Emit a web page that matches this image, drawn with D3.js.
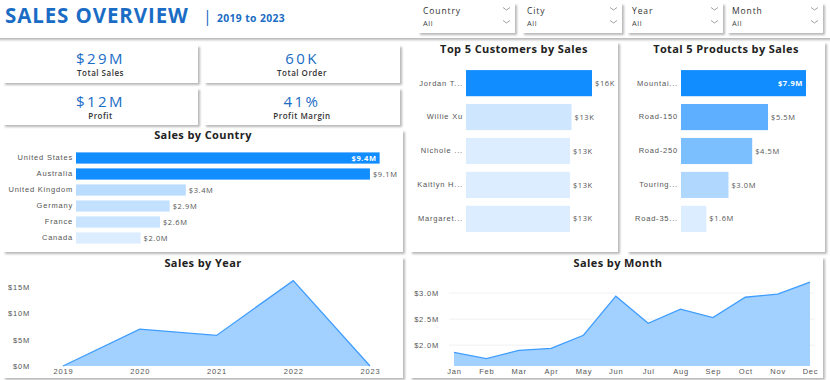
<!DOCTYPE html>
<html><head><meta charset="utf-8">
<script src="https://cdn.jsdelivr.net/npm/d3@7"></script>
<style>
html,body{margin:0;padding:0;background:#fff;}
svg{display:block;font-family:"Open Sans","DejaVu Sans",sans-serif;}
</style></head><body>
<svg id="c" width="830" height="380"></svg>
<script>
// ---- data ----
const slicers = ["Country","City","Year","Month"];
const kpiValues = ["$29M","60K","$12M","41%"];
const kpiLabels = ["Total Sales","Total Order","Profit","Profit Margin"];

const countries = ["United States","Australia","United Kingdom","Germany","France","Canada"];
const countrySales = [9.4,9.1,3.4,2.9,2.6,2.0];
const countryColors = ["#118DFF","#118DFF","#b9dcff","#c3e1ff","#c9e4ff","#dbedff"];

const customers = ["Jordan T...","Willie Xu","Nichole ...","Kaitlyn H...","Margaret..."];
const customerSales = [16.0,13.4,13.2,13.2,13.2];
const customerColors = ["#118DFF","#cfe6ff","#dcedff","#dcedff","#dcedff"];

const products = ["Mountai...","Road-150","Road-250","Touring...","Road-35..."];
const productSales = [7.9,5.5,4.5,3.0,1.6];
const productColors = ["#118DFF","#5eafff","#7cbfff","#b0d8ff","#dcedff"];

const years = ["2019","2020","2021","2022","2023"];
const yearSales = [0,7.0,5.8,16.2,0];
const yearTicks = [0,5,10,15];

const months = ["Jan","Feb","Mar","Apr","May","Jun","Jul","Aug","Sep","Oct","Nov","Dec"];
const monthSales = [1.86,1.74,1.90,1.94,2.19,2.94,2.42,2.69,2.53,2.92,2.98,3.21];
const monthTicks = [2.0,2.5,3.0];

// ---- drawing ----
const svg = d3.select("#c");
const defs = svg.append("defs");
const f = defs.append("filter").attr("id","sh").attr("x","-10%").attr("y","-10%").attr("width","130%").attr("height","140%");
f.append("feDropShadow").attr("dx",2).attr("dy",2).attr("stdDeviation",1.3).attr("flood-color","#000").attr("flood-opacity",0.28);

function card(x,y,w,h){
  svg.append("rect").attr("x",x).attr("y",y).attr("width",w).attr("height",h)
    .attr("fill","#fff").attr("filter","url(#sh)");
}
const blue = "#1a6cc4";

// header
svg.append("rect").attr("x",-5).attr("y",-5).attr("width",840).attr("height",43).attr("fill","#fff").attr("filter","url(#sh)");
svg.append("text").attr("x",5).attr("y",23).attr("font-size",20.5).attr("font-weight",700).attr("fill",blue).attr("letter-spacing",0.9).text("SALES OVERVIEW");
svg.append("text").attr("x",203).attr("y",22).attr("font-size",16).attr("font-weight",400).attr("fill",blue).text("|");
svg.append("text").attr("x",217).attr("y",21.5).attr("font-size",10.3).attr("font-weight",700).attr("fill",blue).attr("letter-spacing",0.4).text("2019 to 2023");

// slicers
const slX = [418,522,627,727], slW = [97,100,96,96];
slicers.forEach((s,i)=>{
  const x = slX[i], w = slW[i];
  card(x,3,w,30);
  svg.append("text").attr("x",x+5).attr("y",13.5).attr("font-size",8.5).attr("fill","#333").attr("letter-spacing",0.9).text(s);
  svg.append("text").attr("x",x+5).attr("y",26).attr("font-size",7.5).attr("fill","#444").attr("letter-spacing",0.5).text("All");
  [9,22].forEach(cy=>{
    svg.append("path").attr("d",`M${x+w-12},${cy-1.5} l3.5,2.5 l3.5,-2.5`).attr("fill","none").attr("stroke","#888").attr("stroke-width",0.8);
  });
});

// KPI cards
const kpiPos = [[3,45,195,38],[204,45,196,38],[3,88,195,37],[204,88,196,37]];
kpiPos.forEach((p,i)=>{
  card(p[0],p[1],p[2],p[3]);
  svg.append("text").attr("x",p[0]+p[2]/2).attr("y",p[1]+19).attr("text-anchor","middle")
    .attr("font-size",15).attr("fill",blue).attr("letter-spacing",2.4).text(kpiValues[i]);
  svg.append("text").attr("x",p[0]+p[2]/2).attr("y",p[1]+31).attr("text-anchor","middle")
    .attr("font-size",8).attr("font-weight",600).attr("fill","#333").attr("letter-spacing",0.5).text(kpiLabels[i]);
});

function title(cx,y,t){
  svg.append("text").attr("x",cx).attr("y",y).attr("text-anchor","middle").attr("font-size",11)
    .attr("font-weight",700).attr("fill","#222").attr("letter-spacing",0.4).text(t);
}

function hbar(cfg){
  const x = d3.scaleLinear().domain([0,cfg.max]).range([cfg.x0,cfg.x1]);
  const y = d3.scaleBand().domain(cfg.labels).range([cfg.y0,cfg.y1]).paddingInner(cfg.pad).paddingOuter(cfg.padOuter);
  const g = svg.append("g");
  g.selectAll("rect").data(cfg.values).join("rect")
    .attr("x",x(0)).attr("y",(d,i)=>y(cfg.labels[i])).attr("width",d=>x(d)-x(0)).attr("height",y.bandwidth())
    .attr("fill",(d,i)=>cfg.colors[i]);
  const ax = g.append("g").attr("transform",`translate(${cfg.x0-3},0)`).call(d3.axisLeft(y).tickSize(0).tickPadding(0));
  ax.select(".domain").remove();
  ax.selectAll("text").attr("font-size",7.5).attr("fill","#555").attr("letter-spacing",0.8).attr("font-family","inherit");
  g.selectAll("text.v").data(cfg.values).join("text").attr("class","v")
    .attr("x",(d,i)=>cfg.inside[i]? x(d)-3 : x(d)+3)
    .attr("y",(d,i)=>y(cfg.labels[i])+y.bandwidth()/2+2.6)
    .attr("text-anchor",(d,i)=>cfg.inside[i]?"end":"start")
    .attr("font-size",7.5).attr("letter-spacing",0.6)
    .attr("font-weight",(d,i)=>cfg.inside[i]?700:400)
    .attr("fill",(d,i)=>cfg.inside[i]?"#fff":"#555")
    .text(cfg.fmt);
}

// Sales by Country
card(3,130,400,122);
title(203,139,"Sales by Country");
hbar({labels:countries,values:countrySales,colors:countryColors,max:10,
  x0:76,x1:76+323,y0:150,y1:246,pad:0.3,padOuter:0.15,inside:[true,false,false,false,false,false],
  fmt:d=>"$"+d.toFixed(1)+"M"});

// Top 5 Customers
card(410,42,208,210);
title(514,53,"Top 5 Customers by Sales");
hbar({labels:customers,values:customerSales,colors:customerColors,max:16,
  x0:466,x1:592,y0:65,y1:237,pad:0.23,padOuter:0.15,inside:[false,false,false,false,false],
  fmt:d=>"$"+Math.round(d)+"K"});

// Top 5 Products
card(627,42,198,210);
title(726,53,"Total 5 Products by Sales");
hbar({labels:products,values:productSales,colors:productColors,max:7.9,
  x0:681,x1:806,y0:65,y1:237,pad:0.23,padOuter:0.15,inside:[true,false,false,false,false],
  fmt:d=>"$"+d.toFixed(1)+"M"});

function area(cfg){
  const x = d3.scalePoint().domain(cfg.cats).range([cfg.x0,cfg.x1]);
  const y = d3.scaleLinear().domain(cfg.dom).range([cfg.yb,cfg.yt]);
  const g = svg.append("g");
  if(cfg.grid){
    g.selectAll("line.gr").data(cfg.ticks).join("line").attr("class","gr")
      .attr("x1",cfg.x0-5).attr("x2",cfg.x1+5).attr("y1",d=>y(d)).attr("y2",d=>y(d))
      .attr("stroke","#eeeeee").attr("stroke-width",0.8);
  }
  const data = cfg.vals.map((v,i)=>[cfg.cats[i],v]);
  g.append("path").datum(data).attr("fill","#a2d0ff")
    .attr("d",d3.area().x(d=>x(d[0])).y0(y(cfg.dom[0])).y1(d=>y(d[1])));
  g.append("path").datum(data).attr("fill","none").attr("stroke","#3f9dff").attr("stroke-width",1.3)
    .attr("d",d3.line().x(d=>x(d[0])).y(d=>y(d[1])));
  const ay = g.append("g").attr("transform",`translate(${cfg.ax},0)`)
    .call(d3.axisLeft(y).tickValues(cfg.ticks).tickSize(0).tickPadding(0).tickFormat(cfg.tf));
  ay.select(".domain").remove();
  ay.selectAll("text").attr("font-size",7.5).attr("fill","#555").attr("letter-spacing",0.8).attr("font-family","inherit");
  const axx = g.append("g").attr("transform",`translate(0,${cfg.yb})`)
    .call(d3.axisBottom(x).tickSize(0).tickPadding(3));
  axx.select(".domain").remove();
  axx.selectAll("text").attr("font-size",7.5).attr("fill","#555").attr("letter-spacing",0.8).attr("font-family","inherit");
}

// Sales by Year
card(3,257,400,121);
title(203,267,"Sales by Year");
area({cats:years,vals:yearSales,x0:63,x1:370,dom:[0,17],yb:366,yt:366-17*5.27,ax:30,
  ticks:yearTicks,tf:d=>"$"+d+"M",grid:false});

// Sales by Month
card(410,257,413,121);
title(618,267,"Sales by Month");
area({cats:months,vals:monthSales,x0:454,x1:810,dom:[1.6,3.3],yb:366,yt:366-1.7*52.1,ax:439,
  ticks:monthTicks,tf:d=>"$"+d.toFixed(1)+"M",grid:true});
</script>
</body></html>
